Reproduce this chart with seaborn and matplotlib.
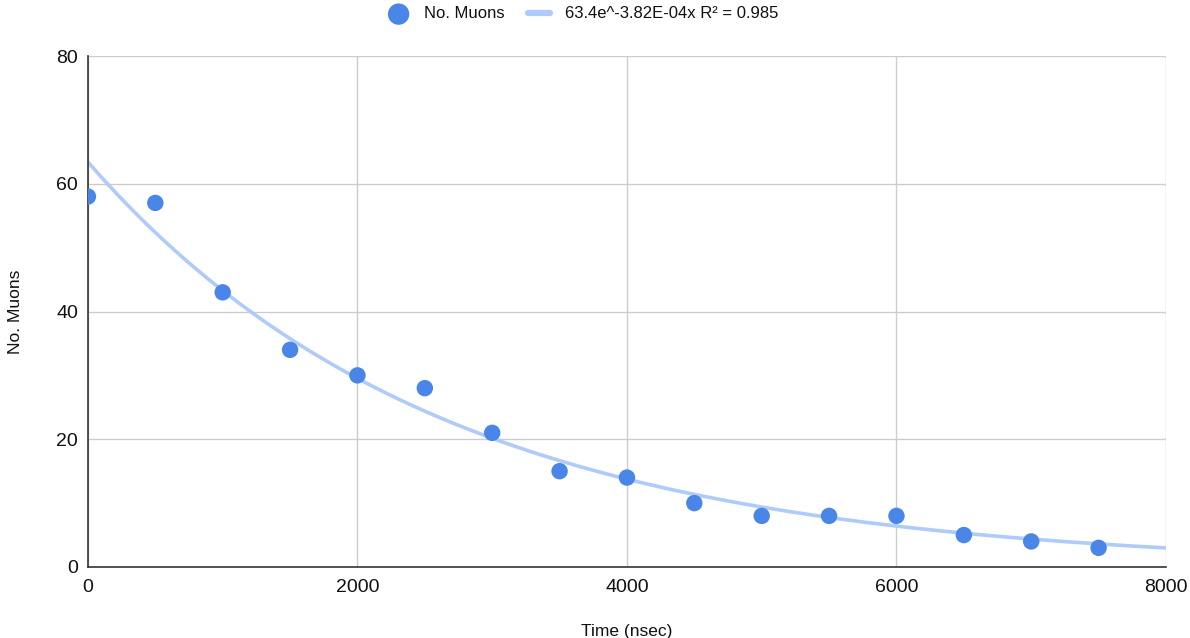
import numpy as np
import pandas as pd
import matplotlib.pyplot as plt
import seaborn as sns

# Data
time_ns = [0, 500, 1000, 1500, 2000, 2500, 3000, 3500, 4000, 4500, 5000, 5500, 6000, 6500, 7000, 7500]
muons = [58, 57, 43, 34, 30, 28, 21, 15, 14, 10, 8, 8, 8, 5, 4, 3]

# Exponential trendline coefficients from the legend
fit_a = 63.4
fit_b = -3.82e-4
fit_label = "63.4e^-3.82E-04x R² = 0.985"

df = pd.DataFrame({"Time (nsec)": time_ns, "No. Muons": muons})
xs = np.linspace(0, 8000, 300)
trend = pd.DataFrame({"x": xs, "y": fit_a * np.exp(fit_b * xs)})

sns.set_style("white")
plt.rcParams["font.family"] = ["Liberation Sans", "DejaVu Sans"]
plt.rcParams["text.color"] = "#111111"
plt.rcParams["xtick.color"] = "#111111"
plt.rcParams["ytick.color"] = "#111111"
plt.rcParams["axes.labelcolor"] = "#111111"

fig = plt.figure(figsize=(11.9, 6.38), dpi=100)
ax = fig.add_axes([0.0739, 0.1113, 0.9059, 0.8009])

sns.lineplot(data=trend, x="x", y="y", ax=ax, color="#aecbfa", linewidth=2.6,
             label=fit_label, zorder=2)
sns.scatterplot(data=df, x="Time (nsec)", y="No. Muons", ax=ax, color="#4a86e8",
                s=140, edgecolor="none", label="No. Muons", zorder=3)

ax.set_xlim(0, 8000)
ax.set_ylim(0, 80)
ax.set_xticks([0, 2000, 4000, 6000, 8000])
ax.set_yticks([0, 20, 40, 60, 80])
ax.grid(True, color="#cccccc", linewidth=1)
ax.set_axisbelow(True)
ax.tick_params(axis="y", labelsize=14, length=0, pad=7)
ax.tick_params(axis="x", labelsize=14, length=0, pad=9)

for side in ["top", "right"]:
    ax.spines[side].set_visible(False)
for side in ["left", "bottom"]:
    ax.spines[side].set_color("#333333")
    ax.spines[side].set_linewidth(1.2)

ax.set_xlabel("Time (nsec)", fontsize=12.5, labelpad=20)
ax.set_ylabel("No. Muons", fontsize=12.5, labelpad=24)

handles, labels = ax.get_legend_handles_labels()
ax.legend_.remove()
order = [labels.index("No. Muons"), labels.index(fit_label)]
leg_handles = [handles[i] for i in order]
leg = fig.legend(leg_handles, [labels[i] for i in order],
                 loc="center", bbox_to_anchor=(0.49, 1 - 14 / 638), ncol=2, frameon=False,
                 fontsize=12, handlelength=1.3, handletextpad=0.9, columnspacing=1.4,
                 markerscale=1.3)
leg.legend_handles[1].set_linewidth(4.5)

plt.savefig("out.png", dpi=100)
